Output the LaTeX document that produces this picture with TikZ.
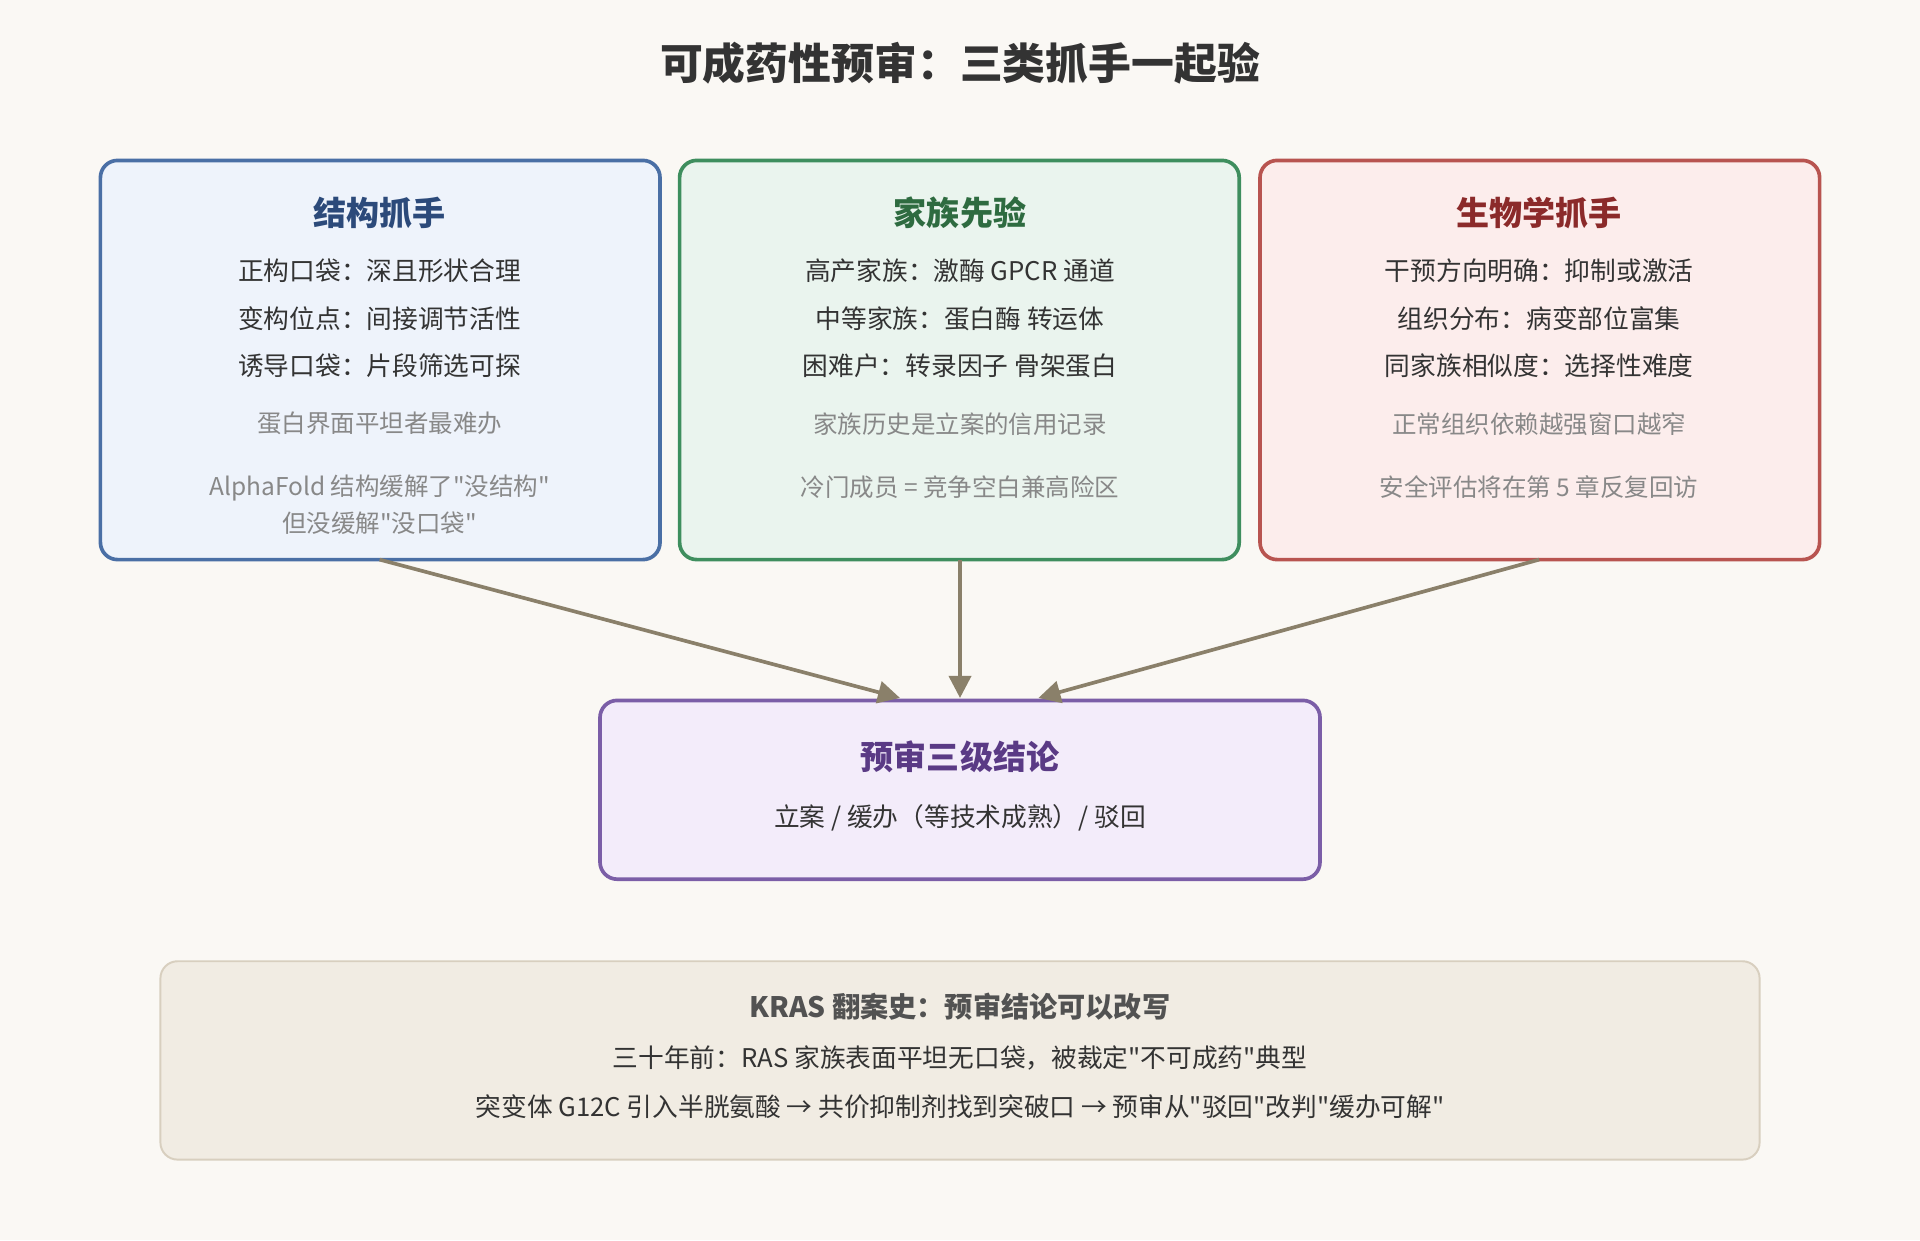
\documentclass[tikz,border=0pt]{standalone}
\usepackage{fontspec}
\setmainfont{Noto Sans CJK SC}
\newfontfamily\qf{Noto Sans CJK SC}
\usetikzlibrary{arrows.meta}
\newcommand\dq{{\qf"}}
\definecolor{bg}{HTML}{FAF8F4}
\definecolor{txt}{HTML}{333333}
\definecolor{gr}{HTML}{888888}
\definecolor{arr}{HTML}{8A806A}
\definecolor{fa}{HTML}{EEF3FB}\definecolor{ba}{HTML}{4A6FA5}\definecolor{ta}{HTML}{2C4A7A}
\definecolor{fb}{HTML}{EAF4EE}\definecolor{bb}{HTML}{3E8E5E}\definecolor{tb}{HTML}{2E6B40}
\definecolor{fc}{HTML}{FCEDEC}\definecolor{bc}{HTML}{B85450}\definecolor{tc}{HTML}{8B2A2A}
\definecolor{fd}{HTML}{F3ECFA}\definecolor{bd}{HTML}{7B5EA7}\definecolor{td}{HTML}{5A3A85}
\definecolor{fe}{HTML}{F1ECE3}\definecolor{be}{HTML}{D8CFBF}
\begin{document}
\begin{tikzpicture}[x=0.5pt,y=-0.5pt,
 box/.style={rounded corners=7pt,line width=1.5pt},
 hd/.style={font=\fontsize{13.5}{15}\selectfont\bfseries},
 tx/.style={font=\fontsize{10.5}{12}\selectfont,text=txt},
 gt/.style={font=\fontsize{10}{15}\selectfont,text=gr,align=center},
 ar/.style={draw=arr,line width=1.5pt,-{Triangle[length=9pt,width=9pt]}}]
\fill[bg] (0,0) rectangle (1568,1013);
\node[font=\fontsize{17.5}{20}\selectfont\bfseries,text=txt] (title) at (784,52) {可成药性预审：三类抓手一起验};
% box 1
\draw[box,fill=fa,draw=ba] (82,131) rectangle (539,457);
\coordinate (A) at (310,457);
\node[hd,text=ta] (a0) at (310,174) {结构抓手};
\node[tx] (a1) at (310,221) {正构口袋：深且形状合理};
\node[tx] (a2) at (310,260) {变构位点：间接调节活性};
\node[tx] (a3) at (310,299) {诱导口袋：片段筛选可探};
\node[gt] (a4) at (310,346) {蛋白界面平坦者最难办};
\node[gt] (a5) at (310,412) {AlphaFold 结构缓解了\dq 没结构\dq\\但没缓解\dq 没口袋\dq};
% box 2
\draw[box,fill=fb,draw=bb] (555,131) rectangle (1012,457);
\coordinate (B) at (784,457);
\node[hd,text=tb] (b0) at (784,174) {家族先验};
\node[tx] (b1) at (784,221) {高产家族：激酶 GPCR 通道};
\node[tx] (b2) at (784,260) {中等家族：蛋白酶 转运体};
\node[tx] (b3) at (784,299) {困难户：转录因子 骨架蛋白};
\node[gt] (b4) at (784,346) {家族历史是立案的信用记录};
\node[gt] (b5) at (784,398) {冷门成员 = 竞争空白兼高险区};
% box 3
\draw[box,fill=fc,draw=bc] (1029,131) rectangle (1486,457);
\coordinate (C) at (1257,457);
\node[hd,text=tc] (c0) at (1257,174) {生物学抓手};
\node[tx] (c1) at (1257,221) {干预方向明确：抑制或激活};
\node[tx] (c2) at (1257,260) {组织分布：病变部位富集};
\node[tx] (c3) at (1257,299) {同家族相似度：选择性难度};
\node[gt] (c4) at (1257,346) {正常组织依赖越强窗口越窄};
\node[gt] (c5) at (1257,398) {安全评估将在第 5 章反复回访};
% center
\draw[box,fill=fd,draw=bd] (490,572) rectangle (1078,718);
\coordinate (DL) at (735,570);
\coordinate (DM) at (784,570);
\coordinate (DR) at (848,570);
\node[hd,text=td] (d0) at (784,618) {预审三级结论};
\node[tx] (d1) at (784,668) {立案 / 缓办（等技术成熟）/ 驳回};
\draw[ar] (A) -- (DL);
\draw[ar] (B) -- (DM);
\draw[ar] (C) -- (DR);
% bottom
\draw[rounded corners=7pt,line width=0.8pt,fill=fe,draw=be] (131,785) rectangle (1437,947);
\node[font=\fontsize{11.5}{13}\selectfont\bfseries,text=txt!85] (e0) at (784,822) {KRAS 翻案史：预审结论可以改写};
\node[tx] (e1) at (784,864) {三十年前：RAS 家族表面平坦无口袋，被裁定\dq 不可成药\dq 典型};
\node[tx] (e2) at (784,904) {突变体 G12C 引入半胱氨酸 → 共价抑制剂找到突破口 → 预审从\dq 驳回\dq 改判\dq 缓办可解\dq};
\end{tikzpicture}
\end{document}
